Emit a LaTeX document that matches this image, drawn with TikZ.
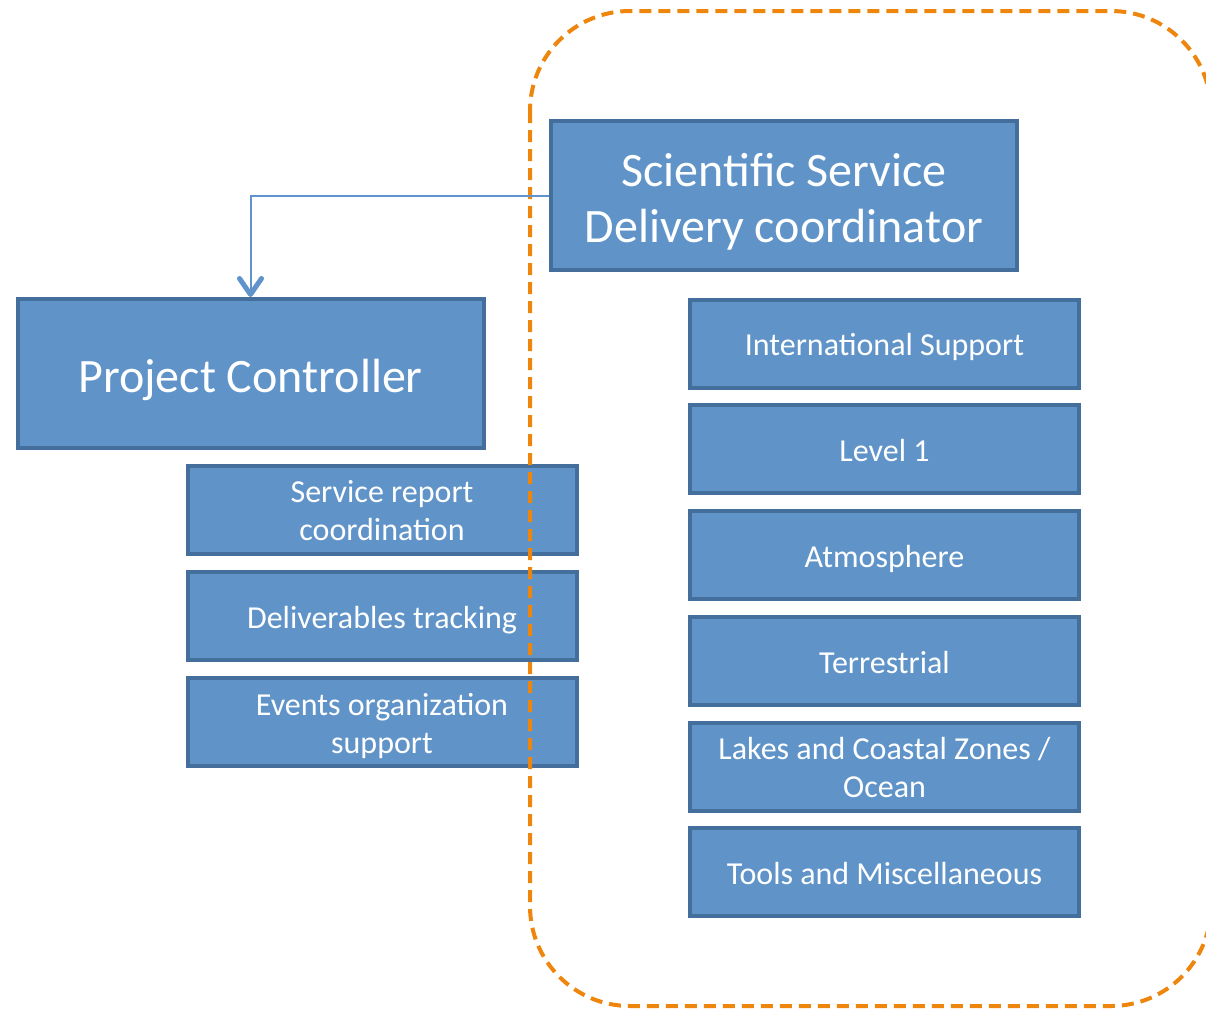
\documentclass[tikz,border=0pt]{standalone}
\usepackage{fontspec}
\setmainfont{Carlito}
\definecolor{boxFill}{RGB}{96,148,201}
\definecolor{boxLine}{RGB}{68,111,156}
\definecolor{linkBlue}{RGB}{96,146,204}
\definecolor{teamOrange}{RGB}{238,133,12}
\usetikzlibrary{arrows.meta}
% line box: 1em above the first baseline, 0.22em below the last one
\newcommand{\topstrut}{\rule{0pt}{1em}}
\newcommand{\botstrut}{\unskip\rule[-0.22em]{0pt}{0.22em}}

\begin{document}
\begin{tikzpicture}[x=0.5pt,y=-0.5pt,
		box/.style={draw=boxLine, fill=boxFill, line width=2pt, text=white, align=center, inner sep=0pt},
		bigbox/.style={box, minimum width=233pt, minimum height=74.5pt, font=\fontsize{24}{28}\selectfont},
		smallbox/.style={box, minimum width=194.5pt, minimum height=44pt, font=\fontsize{16}{19}\selectfont}]
		\useasboundingbox (0,0) rectangle (1206,1009);
		\clip (0,0) rectangle (1206,1009);
		% coordinators
		\node[bigbox] (sci) at (784,195.5) {\topstrut Scientific Service\\Delivery coordinator\botstrut};
		\node[bigbox] (pc) at (250.5,373.5) {\topstrut Project Controller\botstrut};
		% tasks of the project controller
		\foreach \y /\alph/\name in {
			509.5/src/Service report\\coordination,
			616/dt/Deliverables tracking,
			722/eos/Events organization\\support
		 }{
			\node[smallbox] (\alph) at (382,\y) {\topstrut\name\botstrut};
		 }
		% scientific themes
		\foreach \y /\alph/\name in {
			343.5/is/International Support,
			449/l1/Level 1,
			555/atm/Atmosphere,
			661/ter/Terrestrial,
			766.5/lcz/Lakes and Coastal Zones \slash\\Ocean,
			872/tm/Tools and Miscellaneous
		 }{
			\node[smallbox] (\alph) at (884.5,\y) {\topstrut\name\botstrut};
		 }
		% team border
		\draw[teamOrange, line width=2pt, dash pattern=on 6pt off 3.5pt, rounded corners=50pt] (530,11) rectangle (1211,1006);
		\draw[linkBlue, line width=1pt, -{Straight Barb[length=8pt, width=11pt, line width=2.5pt, round]}] (sci.west) -| (pc.north);
	\end{tikzpicture}
\end{document}
